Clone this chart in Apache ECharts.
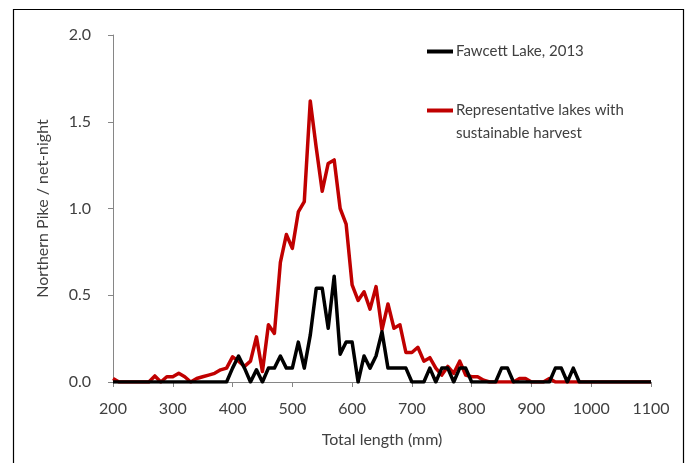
<!DOCTYPE html>
<html>
<head>
<meta charset="utf-8">
<title>Northern Pike length distribution</title>
<script src="https://cdn.jsdelivr.net/npm/echarts@6/dist/echarts.min.js"></script>
<style>
  html, body { margin: 0; padding: 0; background: #fff; }
  #pike_chart { width: 688px; height: 463px; }
</style>
</head>
<body>
<div id="pike_chart"></div>
<script>
// 体长分组 (mm)
var lengths = [200, 210, 220, 230, 240, 250, 260, 270, 280, 290,
  300, 310, 320, 330, 340, 350, 360, 370, 380, 390,
  400, 410, 420, 430, 440, 450, 460, 470, 480, 490,
  500, 510, 520, 530, 540, 550, 560, 570, 580, 590,
  600, 610, 620, 630, 640, 650, 660, 670, 680, 690,
  700, 710, 720, 730, 740, 750, 760, 770, 780, 790,
  800, 810, 820, 830, 840, 850, 860, 870, 880, 890,
  900, 910, 920, 930, 940, 950, 960, 970, 980, 990,
  1000, 1010, 1020, 1030, 1040, 1050, 1060, 1070, 1080, 1090, 1100];

// Fawcett Lake, 2013
var fawcett = [0, 0, 0, 0, 0, 0, 0, 0, 0, 0,
  0, 0, 0, 0, 0, 0, 0, 0, 0, 0,
  0.08, 0.15, 0.08, 0, 0.07, 0, 0.08, 0.08, 0.15, 0.08,
  0.08, 0.23, 0.08, 0.27, 0.54, 0.54, 0.31, 0.61, 0.16, 0.23,
  0.23, 0, 0.15, 0.08, 0.15, 0.29, 0.08, 0.08, 0.08, 0.08,
  0, 0, 0, 0.08, 0, 0.08, 0.08, 0, 0.08, 0.08,
  0, 0, 0, 0, 0, 0.08, 0.08, 0, 0, 0,
  0, 0, 0, 0, 0.08, 0.08, 0, 0.08, 0, 0,
  0, 0, 0, 0, 0, 0, 0, 0, 0, 0, 0];

// 可持续捕捞的代表性湖泊
var representative = [0.02, 0, 0, 0, 0, 0, 0, 0.035, 0, 0.03,
  0.03, 0.05, 0.03, 0, 0.02, 0.03, 0.04, 0.05, 0.07, 0.08,
  0.145, 0.12, 0.09, 0.12, 0.26, 0.06, 0.33, 0.28, 0.69, 0.85,
  0.77, 0.98, 1.04, 1.62, 1.35, 1.10, 1.26, 1.28, 1.00, 0.91,
  0.56, 0.47, 0.52, 0.42, 0.55, 0.30, 0.45, 0.31, 0.33, 0.17,
  0.17, 0.20, 0.12, 0.14, 0.08, 0.04, 0.09, 0.05, 0.12, 0.04,
  0.03, 0.03, 0.01, 0, 0, 0, 0, 0, 0.02, 0.02,
  0, 0, 0, 0.02, 0, 0, 0, 0, 0, 0,
  0, 0, 0, 0, 0, 0, 0, 0, 0, 0, 0];

var xTicks = [200, 300, 400, 500, 600, 700, 800, 900, 1000, 1100];
var yTicks = [0, 0.5, 1.0, 1.5, 2.0];

var seriesNames = ['Fawcett Lake, 2013', 'Representative lakes with sustainable harvest'];

function pairs(values) {
  return lengths.map(function(len, i) { return [len, values[i]]; });
}

var font = 'Lato, "Open Sans", sans-serif';
var axisGray = '#868686';
var textGray = '#404040';

var chartInstance = echarts.init(document.getElementById('pike_chart'));

// 图例公共样式
var legendBase = {
  orient: 'vertical',
  left: 427,
  padding: 0,
  itemWidth: 26,
  itemHeight: 4,
  icon: 'rect',
  textStyle: { fontFamily: font, fontSize: 15, color: textGray, padding: [0, 0, 0, -2] }
};

var option = {
  animation: false,
  backgroundColor: '#fff',
  textStyle: { fontFamily: font },
  grid: {
    left: 113,
    right: 37,
    top: 35,
    bottom: 81
  },
  // 图例分两块，红线对齐第一行文字
  legend: [
    Object.assign({}, legendBase, {
      data: [seriesNames[0]],
      top: 44
    }),
    Object.assign({}, legendBase, {
      data: [seriesNames[1]],
      top: 103,
      formatter: function() { return 'Representative lakes with'; }
    })
  ],
  xAxis: {
    type: 'value',
    min: xTicks[0],
    max: xTicks[xTicks.length - 1],
    interval: 100,
    name: 'Total length (mm)',
    nameLocation: 'middle',
    nameGap: 50,
    nameTextStyle: { fontFamily: font, fontSize: 16, color: textGray },
    axisLine: { lineStyle: { color: axisGray, width: 1 } },
    axisTick: { show: true, length: 5, lineStyle: { color: axisGray } },
    axisLabel: {
      fontFamily: font,
      fontSize: 16,
      color: textGray,
      margin: 19,
      formatter: function(v) { return String(v); }
    },
    splitLine: { show: false }
  },
  yAxis: {
    type: 'value',
    min: yTicks[0],
    max: yTicks[yTicks.length - 1],
    interval: 0.5,
    name: 'Northern Pike / net-night',
    nameLocation: 'middle',
    nameGap: 62,
    nameRotate: 90,
    nameTextStyle: { fontFamily: font, fontSize: 16, color: textGray },
    axisLine: { show: true, lineStyle: { color: axisGray, width: 1 } },
    axisTick: { show: true, length: 5, lineStyle: { color: axisGray } },
    axisLabel: {
      fontFamily: font,
      fontSize: 16,
      color: textGray,
      margin: 22,
      formatter: function(v) { return v.toFixed(1); }
    },
    splitLine: { show: false }
  },
  series: [
    {
      name: seriesNames[1],
      type: 'line',
      data: pairs(representative),
      symbol: 'none',
      lineStyle: { color: '#c00000', width: 3.5, join: 'round' },
      itemStyle: { color: '#c00000' },
      z: 2
    },
    {
      name: seriesNames[0],
      type: 'line',
      data: pairs(fawcett),
      symbol: 'none',
      lineStyle: { color: '#000', width: 3.5, join: 'round' },
      itemStyle: { color: '#000' },
      z: 3
    }
  ],
  graphic: [
    // 图例第二行
    {
      type: 'text',
      left: 456,
      top: 126,
      style: { text: 'sustainable harvest', font: '15px ' + font, fill: textGray },
      silent: true
    },
    // 外边框
    {
      type: 'rect',
      left: 11,
      top: 7,
      shape: { width: 670, height: 470 },
      style: { fill: 'none', stroke: '#000', lineWidth: 1.2 },
      silent: true
    }
  ]
};

chartInstance.setOption(option);
</script>
</body>
</html>
